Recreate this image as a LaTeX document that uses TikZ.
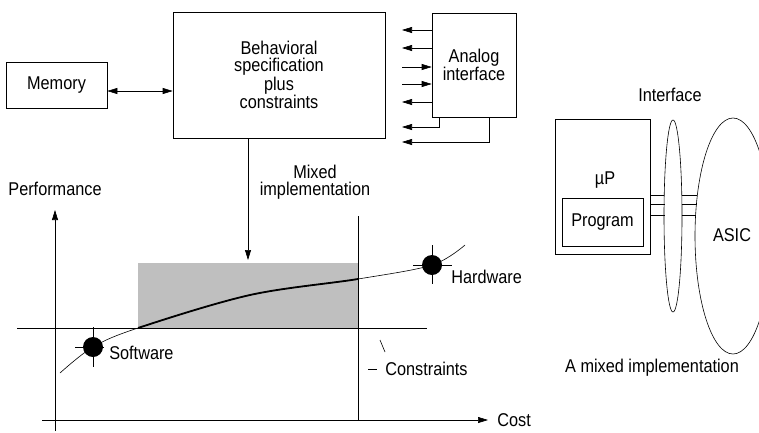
\documentclass[tikz,border=0pt]{standalone}
\usepackage{fontspec}
\setmainfont{Liberation Sans}[FakeStretch=0.88]
\usetikzlibrary{arrows.meta,shapes.geometric}
\begin{document}
\begin{tikzpicture}[x=1pt,y=-1pt,line width=0.6pt,
  font=\fontsize{18.5}{17}\selectfont,
  box/.style={draw,inner sep=0pt,align=center},
  txt/.style={inner sep=0pt,align=center},
  tip/.style={-{Triangle[length=10pt,width=6pt]}},
  dbltip/.style={{Triangle[length=10pt,width=6pt]}-{Triangle[length=10pt,width=6pt]}},
  dot/.style={circle,fill=black,inner sep=0pt,minimum size=20pt},
  ell/.style={ellipse,draw,inner sep=0pt}]
\useasboundingbox (0,0) rectangle (759,432);

% top blocks
\node[box,minimum width=101pt,minimum height=46pt] (mem) at (56.5,85) {Memory};
\node[box,minimum width=212pt,minimum height=126pt] (beh) at (279,75) {Behavioral\\specification\\plus\\constraints};
\node[box,minimum width=84pt,minimum height=104pt] (ana) at (474,65) {Analog\\interface};
\draw[dbltip] ([yshift=-6pt]mem.east) -- ([yshift=-6pt]mem.east -| beh.west);

% analog interface signals
\coordinate (l1) at (402,30);
\coordinate (l2) at (402,48);
\coordinate (l3) at (402,67);
\coordinate (l4) at (402,84);
\coordinate (l5) at (402,102);
\coordinate (l6) at (402,127);
\coordinate (l7) at (402,142);
\draw[tip] (l1 -| ana.west) -- (l1);
\draw[tip] (l2 -| ana.west) -- (l2);
\draw[tip] (l3) -- (l3 -| ana.west);
\draw[tip] (l4) -- (l4 -| ana.west);
\draw[tip] (l5 -| ana.west) -- (l5);
\draw[tip] ([xshift=8pt]ana.south west) |- (l6);
\draw[tip] ([xshift=58pt]ana.south west) |- (l7);

% graph
\fill[black!25] (138,263) rectangle (358,328);
\coordinate (tgt) at (248,260);
\draw[tip] (beh.south -| tgt) -- (tgt);
\node[txt] (mixlbl) at (315,182) {Mixed\\implementation};
\node[txt] (perf) at (55,189) {Performance};
\node[txt,anchor=west] (cost) at (497,420) {Cost};
\coordinate (yb) at (55,431);
\coordinate (yt) at (55,210);
\coordinate (xl) at (42,420);
\coordinate (xr) at (488,420);
\draw[tip] (yb) -- (yt);
\draw[tip] (xl) -- (xr);
\draw (17,328) -- (427,328);
\draw (358,216) -- (358,420);

\draw[line width=0.6pt] plot[smooth,tension=0.55] coordinates {(60,373) (93,347) (138,328) (250,295) (358,279) (432,265) (465,245)};
\begin{scope}
\clip (138,240) rectangle (358,340);
\draw[line width=1.8pt] plot[smooth,tension=0.55] coordinates {(60,373) (93,347) (138,328) (250,295) (358,279) (432,265) (465,245)};
\end{scope}

\node[dot] (sw) at (93,347) {};
\node[dot] (hw) at (432,265) {};
\draw (93,327) -- (93,367);
\draw (75,347) -- (104,347);
\draw (432,245) -- (432,284);
\draw (413,265) -- (452,265);
\node[txt,anchor=west] (swl) at (109,353) {Software};
\node[txt,anchor=west] (hwl) at (451,277) {Hardware};
\node[txt,anchor=west] (conl) at (385,369) {Constraints};
\draw (368,369) -- (377,369);
\draw (380,340) -- (385,352);

% mixed implementation
\node[box,minimum width=95pt,minimum height=135pt] (mp) at (602.5,186.5) {};
\node[box,minimum width=81pt,minimum height=48pt] (prog) at (602.5,222) {Program};
\node[txt] (mulbl) at (605,180) {µP};
\node[ell,minimum width=18pt,minimum height=192pt] (intf) at (673,216) {};
\node[ell,minimum width=76pt,minimum height=236pt] (asic) at (733,236) {};
\node[txt] (asiclbl) at (732,235) {ASIC};
\node[txt] (intlbl) at (670,95) {Interface};
\node[txt] (mixl) at (652,368) {A mixed implementation};
\draw (mp.east |- 0,195) -- (664,195);
\draw (mp.east |- 0,204) -- (664.5,204);
\draw (mp.east |- 0,215) -- (664.5,215);
\draw (682,195) -- (697,195);
\draw (681.5,204) -- (696.5,204);
\draw (681.5,215) -- (695.8,215);
\end{tikzpicture}
\end{document}
